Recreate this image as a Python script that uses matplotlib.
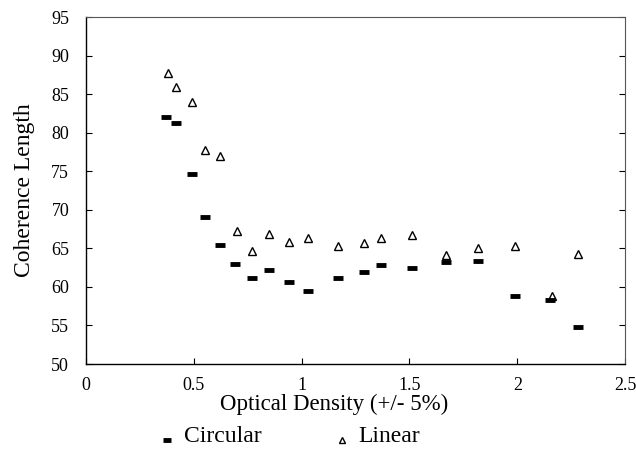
import matplotlib
matplotlib.use("Agg")
import matplotlib.pyplot as plt
from matplotlib.legend_handler import HandlerLine2D
from matplotlib.lines import Line2D

od_circ = [0.37, 0.42, 0.49, 0.55, 0.62, 0.69, 0.77, 0.85, 0.94, 1.03, 1.17, 1.29, 1.37, 1.51, 1.67, 1.82, 1.99, 2.15, 2.28]
coh_circ = [82.0, 81.3, 74.7, 69.1, 65.5, 63.0, 61.1, 62.2, 60.6, 59.5, 61.1, 62.0, 62.9, 62.5, 63.3, 63.4, 58.8, 58.3, 54.8]
od_lin = [0.38, 0.42, 0.49, 0.55, 0.62, 0.70, 0.77, 0.85, 0.94, 1.03, 1.17, 1.29, 1.37, 1.51, 1.67, 1.82, 1.99, 2.16, 2.28]
coh_lin = [87.7, 85.9, 84.0, 77.7, 77.0, 67.3, 64.6, 66.9, 65.8, 66.3, 65.3, 65.7, 66.4, 66.7, 64.2, 65.0, 65.3, 58.8, 64.3]
xticks = [0, 0.5, 1, 1.5, 2, 2.5]
xticklabels = ["0", "0.5", "1", "1.5", "2", "2.5"]
yticks = [50, 55, 60, 65, 70, 75, 80, 85, 90, 95]


class LowHandler(HandlerLine2D):
    def create_artists(self, legend, orig_handle, xdescent, ydescent, width, height, fontsize, trans):
        return super().create_artists(legend, orig_handle, xdescent, ydescent + 9, width, height, fontsize, trans)


plt.rcParams['font.family'] = ['Liberation Serif', 'DejaVu Serif']
fig = plt.figure(figsize=(6.36, 4.5), dpi=100)
ax = fig.add_axes([0.135, 0.191, 0.848, 0.771])

ax.plot(od_circ, coh_circ, linestyle='none', marker='_', ms=7, mew=3.5, color='black', label='Circular')
ax.plot(od_lin, coh_lin, linestyle='none', marker='^', ms=6, mfc='none', mec='black', mew=1.0, label='Linear')

ax.set_xlim(0, 2.5)
ax.set_ylim(50, 95)
ax.set_xticks(xticks)
ax.set_xticklabels(xticklabels)
ax.set_yticks(yticks)
ax.tick_params(direction='in', length=4, labelsize=13, top=False, right=True, width=0.8)
ax.tick_params(axis='x', pad=9)
ax.tick_params(axis='y', pad=12)
for s in ['left', 'bottom']:
    ax.spines[s].set_linewidth(1.0)
for s in ['top', 'right']:
    ax.spines[s].set_linewidth(0.8)
    ax.spines[s].set_color('#555555')
ax.set_xlabel('Optical Density (+/- 5%)', fontsize=16.5)
ax.xaxis.set_label_coords(0.46, -0.085)
ax.set_ylabel('Coherence Length', fontsize=17, labelpad=12)

fig.legend(loc='lower left', bbox_to_anchor=(0.215, -0.04), ncol=2, frameon=False,
           fontsize=17, handlelength=0.8, handletextpad=0.3, columnspacing=3.0,
           markerscale=0.8, handler_map={Line2D: LowHandler()})

fig.savefig('out.png', dpi=100)
